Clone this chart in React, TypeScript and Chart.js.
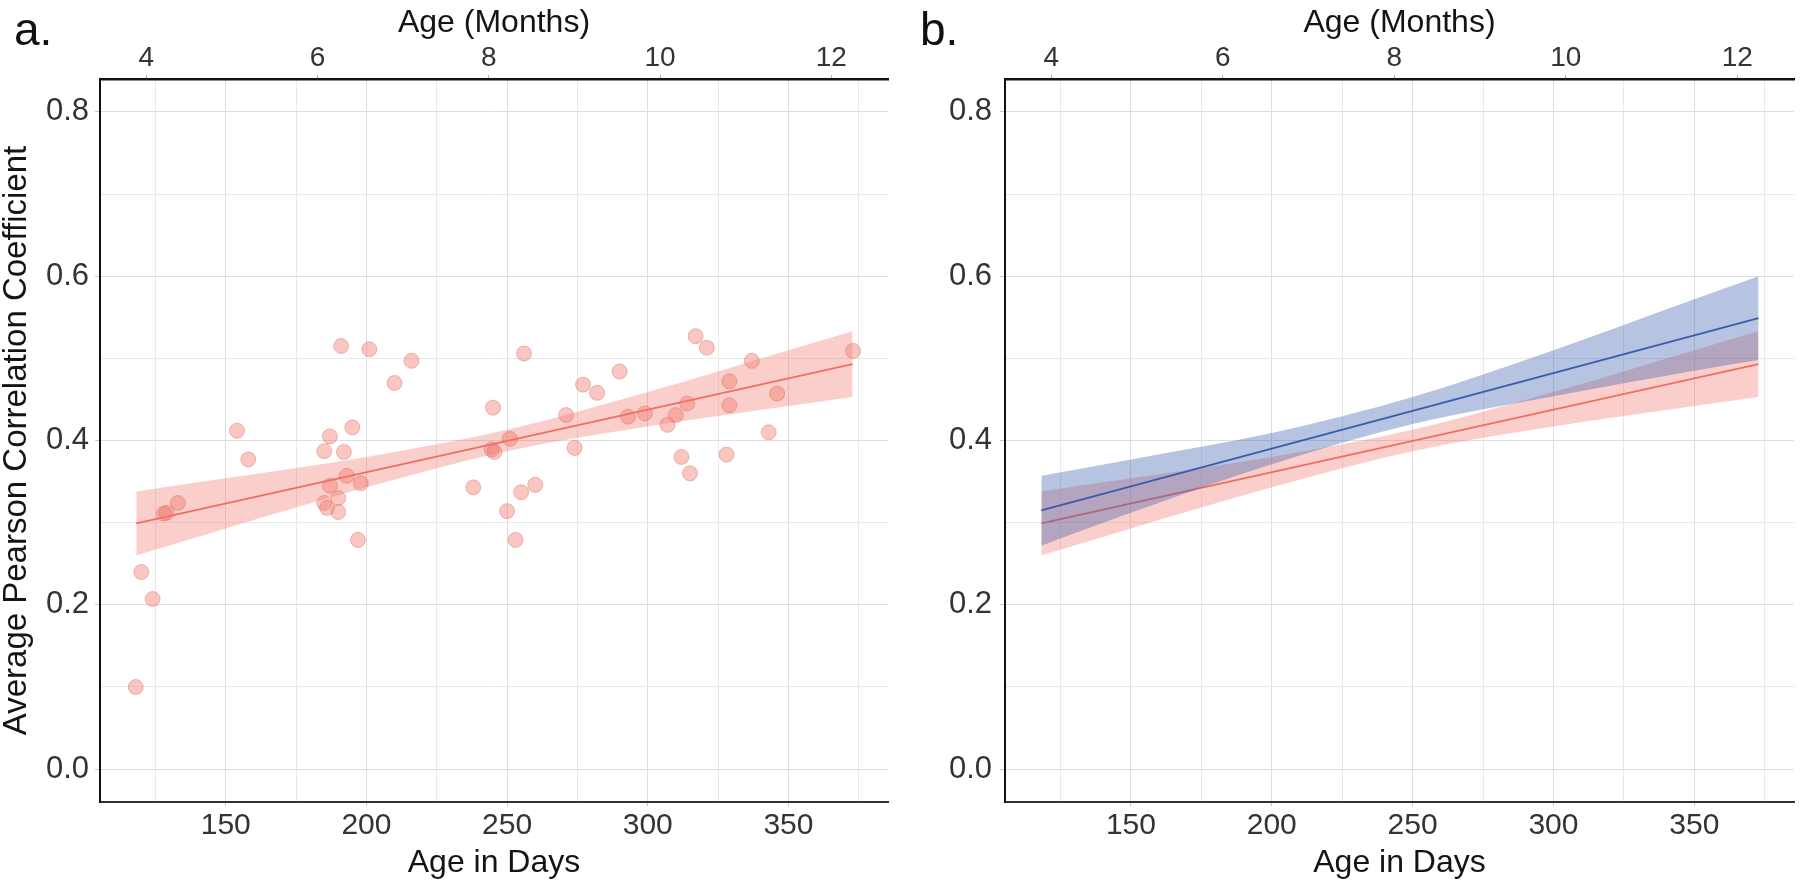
import React, { useEffect, useRef } from "react";
import { Chart, registerables } from "chart.js";

Chart.register(...registerables);

// ---------- data ----------
const pointDays = [
  118, 120, 124, 128, 129, 133, 154, 158, 191, 201, 216, 210, 187, 195, 185, 192, 193, 187,
  198, 190, 185, 186, 190, 197, 238, 245, 244.5, 245.5, 256, 251, 260, 255, 250, 253, 271,
  274, 277, 282, 290, 293, 299, 307, 310, 314, 312, 315, 317, 321, 329, 329, 328, 337, 346,
  343, 373,
];
const pointCorr = [
  0.1, 0.24, 0.207, 0.311, 0.312, 0.324, 0.412, 0.377, 0.515, 0.511, 0.497, 0.47, 0.405,
  0.416, 0.387, 0.386, 0.357, 0.345, 0.348, 0.33, 0.324, 0.318, 0.313, 0.279, 0.343, 0.44,
  0.389, 0.386, 0.506, 0.402, 0.346, 0.337, 0.314, 0.279, 0.431, 0.391, 0.468, 0.458, 0.484,
  0.429, 0.433, 0.419, 0.431, 0.445, 0.38, 0.36, 0.527, 0.513, 0.472, 0.443, 0.383, 0.497,
  0.457, 0.41, 0.509,
];

const fitDays = [118.2, 372.8];
const redFit = [0.299, 0.493];
const blueFit = [0.315, 0.549];

const bandDays = [118.2, 150, 200, 250, 300, 350, 372.8];
const redUpper = [0.338, 0.354, 0.38, 0.413, 0.459, 0.51, 0.533];
const redLower = [0.26, 0.293, 0.343, 0.387, 0.417, 0.442, 0.453];
const blueUpper = [0.357, 0.377, 0.409, 0.453, 0.51, 0.572, 0.6];
const blueLower = [0.272, 0.312, 0.371, 0.42, 0.454, 0.485, 0.498];

const xMajorTicks = [150, 200, 250, 300, 350];
const xMinorTicks = [125, 175, 225, 275, 325, 375];
const yMajorTicks = [0, 0.2, 0.4, 0.6, 0.8];
const yMinorTicks = [0.1, 0.3, 0.5, 0.7];
const monthTicks = [4, 6, 8, 10, 12];
const DAYS_PER_MONTH = 30.4375;

const X_MIN = 105.3;
const X_MAX = 385.4;
const Y_MIN = -0.04;
const Y_MAX = 0.84;

// ---------- styles ----------
const FONT = "'Liberation Sans', Arial, Helvetica, sans-serif";
const RED = "#EF6F63";
const RED_FILL = "rgba(240,116,104,0.35)";
const BLUE = "#3A5CAB";
const BLUE_FILL = "rgba(58,93,174,0.37)";
const POINT_FILL = "rgba(240,120,108,0.42)";
const POINT_BORDER = "rgba(215,100,90,0.4)";
const GRID_MAJOR = "#DEDEDE";
const GRID_MINOR = "#E9E9E9";
const TICK_TEXT = "#333333";
const TITLE_TEXT = "#141414";

const toXY = (xs: number[], ys: number[]) => xs.map((x, i) => ({ x, y: ys[i] }));
const isClose = (a: number, b: number) => Math.abs(a - b) < 1e-6;
const inList = (v: number, list: number[]) => list.some((t) => isClose(t, v));

function lineDs(xs: number[], ys: number[], color: string, order: number) {
  return {
    type: "scatter" as const,
    data: toXY(xs, ys),
    showLine: true,
    borderColor: color,
    borderWidth: 1.8,
    pointRadius: 0,
    fill: false,
    order,
  };
}

function bandDs(ys: number[], fillColor: string, order: number, fillNext: boolean) {
  return {
    type: "scatter" as const,
    data: toXY(bandDays, ys),
    showLine: true,
    borderColor: "transparent",
    borderWidth: 0,
    pointRadius: 0,
    backgroundColor: fillColor,
    fill: fillNext ? "+1" : false,
    cubicInterpolationMode: "monotone" as const,
    order,
  };
}

function makeConfig(panel: "a" | "b"): any {
  const datasets: any[] =
    panel === "a"
      ? [
          {
            type: "scatter",
            data: toXY(pointDays, pointCorr),
            pointRadius: 7.5,
            pointBackgroundColor: POINT_FILL,
            pointBorderColor: POINT_BORDER,
            pointBorderWidth: 1,
            order: 0,
          },
          lineDs(fitDays, redFit, RED, 1),
          bandDs(redUpper, RED_FILL, 2, true),
          bandDs(redLower, RED_FILL, 2, false),
        ]
      : [
          lineDs(fitDays, blueFit, BLUE, 0),
          bandDs(blueUpper, BLUE_FILL, 1, true),
          bandDs(blueLower, BLUE_FILL, 1, false),
          lineDs(fitDays, redFit, RED, 2),
          bandDs(redUpper, RED_FILL, 3, true),
          bandDs(redLower, RED_FILL, 3, false),
        ];

  const yWidth = panel === "a" ? 100 : 105;
  const rightPad = panel === "a" ? 12 : 6;

  return {
    type: "scatter",
    data: { datasets },
    options: {
      responsive: false,
      animation: false,
      events: [],
      layout: { padding: { left: 0, right: rightPad, top: 0, bottom: 0 } },
      plugins: { legend: { display: false }, tooltip: { enabled: false } },
      scales: {
        x: {
          type: "linear",
          position: "bottom",
          min: X_MIN,
          max: X_MAX,
          afterBuildTicks: (axis: any) => {
            axis.ticks = [...xMajorTicks, ...xMinorTicks]
              .sort((a, b) => a - b)
              .map((value) => ({ value }));
          },
          afterFit: (axis: any) => {
            axis.height = 89;
          },
          ticks: {
            callback: (v: number) => (inList(v, xMajorTicks) ? String(v) : ""),
            font: { family: FONT, size: 30 },
            color: TICK_TEXT,
            padding: 2,
            maxRotation: 0,
            autoSkip: false,
          },
          grid: {
            color: (ctx: any) => (ctx.tick && inList(ctx.tick.value, xMajorTicks) ? GRID_MAJOR : GRID_MINOR),
            lineWidth: 1,
            tickLength: 4,
            tickColor: (ctx: any) => (ctx.tick && inList(ctx.tick.value, xMajorTicks) ? "#c8c8c8" : "rgba(0,0,0,0)"),
          },
          border: { display: true, color: "#333", width: 2 },
          title: {
            display: true,
            text: "Age in Days",
            font: { family: FONT, size: 32 },
            color: TITLE_TEXT,
            padding: { top: 0, bottom: 9 },
          },
        },
        x2: {
          type: "linear",
          position: "top",
          min: X_MIN,
          max: X_MAX,
          afterBuildTicks: (axis: any) => {
            axis.ticks = monthTicks.map((m) => ({ value: m * DAYS_PER_MONTH }));
          },
          afterFit: (axis: any) => {
            axis.height = 79;
          },
          ticks: {
            callback: (v: number) => {
              const m = monthTicks.find((mm) => isClose(mm * DAYS_PER_MONTH, v));
              return m === undefined ? "" : String(m);
            },
            font: { family: FONT, size: 28 },
            color: TICK_TEXT,
            padding: 0,
            maxRotation: 0,
            autoSkip: false,
          },
          grid: {
            drawOnChartArea: false,
            tickLength: 4,
            tickColor: "#b5b5b5",
          },
          border: { display: true, color: "#111", width: 2.5 },
          title: {
            display: true,
            text: "Age (Months)",
            font: { family: FONT, size: 32 },
            color: TITLE_TEXT,
            padding: { top: 4, bottom: 0 },
          },
        },
        y: {
          type: "linear",
          position: "left",
          min: Y_MIN,
          max: Y_MAX,
          afterBuildTicks: (axis: any) => {
            axis.ticks = [...yMajorTicks, ...yMinorTicks]
              .sort((a, b) => a - b)
              .map((value) => ({ value }));
          },
          afterFit: (axis: any) => {
            axis.width = yWidth;
          },
          ticks: {
            callback: (v: number) => (inList(v, yMajorTicks) ? v.toFixed(1) : ""),
            font: { family: FONT, size: 31 },
            color: TICK_TEXT,
            padding: panel === "a" ? 6 : 8,
            autoSkip: false,
          },
          grid: {
            color: (ctx: any) => (ctx.tick && inList(ctx.tick.value, yMajorTicks) ? GRID_MAJOR : GRID_MINOR),
            lineWidth: 1,
            tickLength: 5,
            tickColor: (ctx: any) => (ctx.tick && inList(ctx.tick.value, yMajorTicks) ? "#c8c8c8" : "rgba(0,0,0,0)"),
          },
          border: { display: true, color: "#111", width: 2 },
          title: {
            display: panel === "a",
            text: "Average Pearson Correlation Coefficient",
            font: { family: FONT, size: 33 },
            color: TITLE_TEXT,
            padding: { top: -3, bottom: 0 },
          },
        },
      },
    },
  };
}

function Panel({ which, left }: { which: "a" | "b"; left: number }) {
  const ref = useRef<HTMLCanvasElement>(null);
  useEffect(() => {
    if (!ref.current) return;
    const chart = new Chart(ref.current, makeConfig(which));
    return () => chart.destroy();
  }, [which]);
  return (
    <canvas
      ref={ref}
      width={900}
      height={891}
      style={{ position: "absolute", left, top: 0, width: 900, height: 891 }}
    />
  );
}

const labelStyle: React.CSSProperties = {
  position: "absolute",
  top: 6,
  fontFamily: FONT,
  fontSize: 46,
  lineHeight: "46px",
  color: "#111",
};

export default function App() {
  return (
    <div
      style={{
        position: "fixed",
        left: 0,
        top: 0,
        width: 1800,
        height: 891,
        background: "#fff",
        overflow: "hidden",
      }}
    >
      <Panel which="a" left={0} />
      <Panel which="b" left={900} />
      <div style={{ ...labelStyle, left: 14 }}>a.</div>
      <div style={{ ...labelStyle, left: 920 }}>b.</div>
    </div>
  );
}
